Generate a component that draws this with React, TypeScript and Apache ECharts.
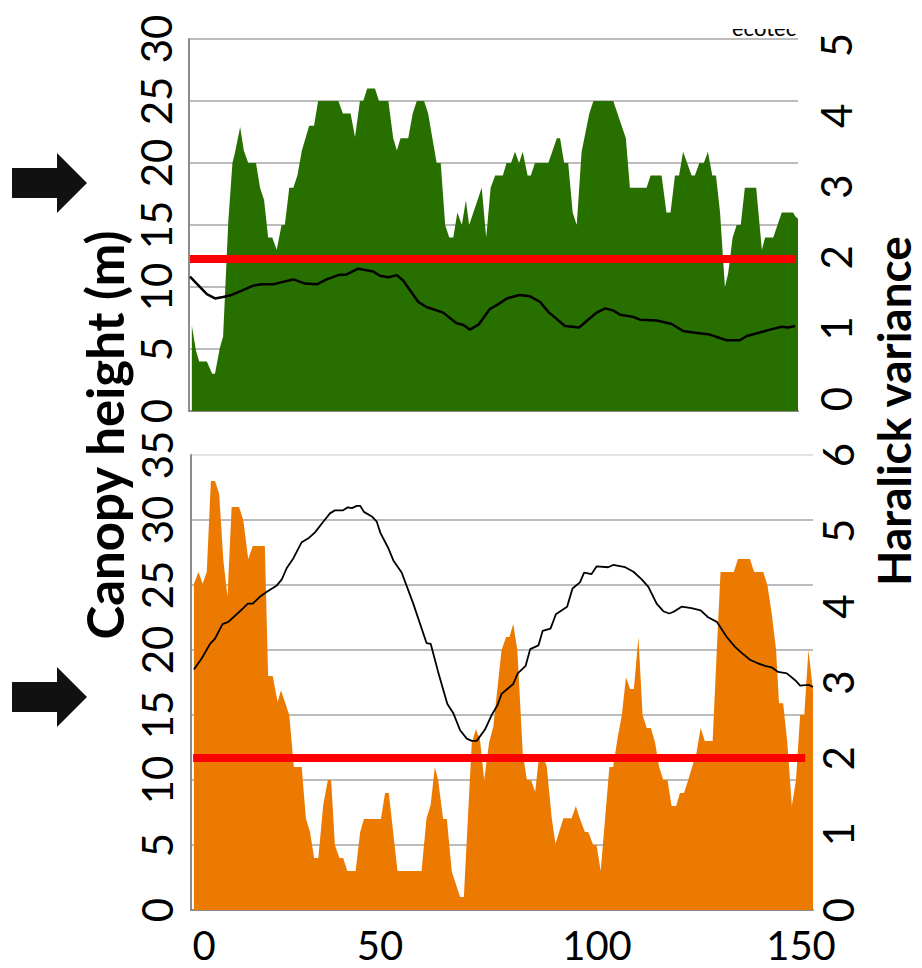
import React, { useEffect, useRef } from "react";
import * as echarts from "echarts";

// Distance along transect (0-150) and canopy height (m) — upper (green) profile
const topCanopyHeight: [number, number][] = [
  [0.7, 6.9], [1.7, 4.9], [2.5, 4.0], [4.4, 4.0], [5.7, 3.0], [6.4, 3.0], [7.6, 5.1], [8.4, 6.0],
  [9.7, 15.4], [10.7, 20], [11.3, 20.8], [12.6, 22.9], [13.5, 21], [14.6, 20], [16.5, 20], [17.5, 18],
  [18.5, 17], [19.5, 14], [20.5, 14], [21.6, 13], [22.8, 15], [23.6, 15], [24.7, 18], [25.7, 18],
  [26.7, 19], [27.8, 21], [29.6, 23], [30.8, 23], [31.8, 25], [36.8, 25], [37.9, 24], [39.8, 24],
  [40.9, 22.1], [42.1, 25], [42.9, 25], [43.9, 26], [45.8, 26], [46.8, 25], [49.1, 25], [50.3, 22],
  [51.2, 21], [52.1, 22], [54.0, 22], [55.1, 24], [56.1, 25], [57.9, 25], [58.9, 24], [61.0, 20],
  [62.0, 20], [63.1, 15], [64.1, 14], [65.1, 14], [66.1, 16], [67.2, 15], [68.2, 17], [69.0, 15],
  [72.1, 18], [73.2, 14], [74.3, 18], [75.4, 19], [77.3, 19], [78.2, 20], [79.3, 20], [80.3, 20.9],
  [81.3, 20], [82.2, 20.9], [83.4, 19], [84.2, 19], [85.2, 20], [88.5, 20], [90.6, 22], [91.4, 22],
  [92.4, 20], [93.4, 20], [94.5, 16], [95.5, 15], [96.7, 20.9], [98.6, 24], [99.6, 25], [104.5, 25],
  [107.6, 22], [108.6, 18], [112.7, 18], [113.7, 19], [116.4, 19], [117.6, 16], [118.6, 16], [119.7, 19],
  [120.7, 19], [121.7, 20.9], [123.8, 19], [124.6, 19], [125.7, 20], [126.8, 20], [127.8, 20.9], [128.9, 19],
  [129.8, 19], [130.8, 16], [132.0, 10], [132.8, 11.1], [133.9, 14], [134.9, 15], [135.9, 15], [136.9, 18],
  [139.7, 18], [141.1, 13], [141.9, 14], [143.9, 14], [146.0, 16], [148.8, 16], [149.3, 15.7], [150, 15.5],
];

// Haralick variance — upper profile
const topHaralick: [number, number][] = [
  [0.25, 1.73], [1.9, 1.63], [4.4, 1.48], [6.4, 1.42], [8.4, 1.44], [10.5, 1.47], [13.0, 1.53], [15.8, 1.60],
  [17.9, 1.62], [20.8, 1.62], [25.7, 1.69], [28.6, 1.63], [31.5, 1.62], [33.9, 1.69], [36.8, 1.75], [38.8, 1.76],
  [41.7, 1.84], [45.4, 1.80], [47.0, 1.74], [49.1, 1.72], [51.2, 1.75], [52.8, 1.67], [54.4, 1.54], [56.5, 1.37],
  [58.5, 1.30], [62.6, 1.22], [65.9, 1.07], [67.5, 1.05], [69.2, 0.98], [71.3, 1.05], [74.1, 1.27], [76.2, 1.34],
  [78.3, 1.42], [81.4, 1.47], [84.0, 1.45], [86.5, 1.37], [88.5, 1.23], [92.6, 1.03], [96.1, 1.01], [98.3, 1.12],
  [100.4, 1.22], [102.5, 1.28], [104.5, 1.25], [106.2, 1.19], [109.4, 1.16], [111.1, 1.12], [115.2, 1.11], [118.9, 1.06],
  [121.7, 0.96], [124.2, 0.94], [128.3, 0.91], [132.4, 0.83], [135.7, 0.83], [137.4, 0.89], [140.6, 0.94], [143.1, 0.98],
  [146.0, 1.02], [147.6, 1.01], [149.3, 1.03],
];

// Canopy height (m) — lower (orange) profile
const bottomCanopyHeight: [number, number][] = [
  [0.7, 25.1], [1.8, 26.0], [2.8, 25.1], [3.8, 26.0], [4.8, 33.0], [5.8, 33.0], [6.8, 32.0], [7.8, 26.9],
  [8.8, 24.1], [9.8, 31.0], [11.6, 31.0], [12.6, 30.0], [13.8, 27.0], [14.9, 28.0], [17.8, 28.0], [18.6, 18.0],
  [19.7, 18.0], [20.9, 16.0], [21.7, 16.9], [23.7, 15.0], [24.8, 11.0], [26.7, 11.0], [27.7, 7.05], [28.7, 6.0],
  [29.7, 4.0], [30.7, 4.0], [31.9, 8.1], [33.0, 10.0], [33.8, 10.0], [34.7, 5.0], [35.8, 4.0], [36.7, 4.0],
  [37.7, 3.0], [39.7, 3.0], [40.8, 6.0], [41.7, 7.0], [45.8, 7.0], [46.8, 9.0], [47.7, 9.0], [49.8, 3.0],
  [55.6, 3.0], [56.8, 7.05], [57.8, 8.1], [58.8, 11.0], [59.6, 10.0], [60.8, 7.0], [61.7, 7.0], [62.9, 2.95],
  [64.9, 1.0], [65.8, 1.0], [67.7, 12.8], [68.7, 13.9], [69.7, 13.1], [70.7, 10.0], [71.9, 12.9], [72.9, 14.1],
  [74.9, 20.0], [76.0, 21.0], [76.8, 21.0], [77.7, 22.0], [78.7, 20.0], [80.0, 12.1], [81.0, 10.0], [82.0, 10.0],
  [83.0, 9.1], [84.0, 12.0], [84.8, 12.0], [85.8, 11.0], [87.0, 7.05], [87.9, 5.1], [89.8, 7.05], [91.8, 7.05],
  [92.8, 8.0], [93.8, 7.0], [95.0, 6.0], [95.8, 6.0], [97.0, 5.0], [97.8, 5.0], [98.8, 3.0], [100.9, 11.0],
  [101.8, 11.0], [102.8, 13.1], [103.9, 15.0], [104.9, 17.9], [105.9, 17.0], [106.8, 17.0], [107.9, 21.0], [108.9, 15.0],
  [109.9, 14.0], [110.9, 14.0], [111.9, 12.9], [112.9, 11.0], [113.9, 10.0], [114.9, 10.0], [115.9, 8.0], [117.0, 8.0],
  [117.9, 9.0], [118.9, 9.0], [119.9, 10.0], [121.9, 12.1], [122.9, 14.0], [123.9, 13.0], [125.8, 13.0], [126.8, 20.0],
  [127.7, 26.0], [130.9, 26.0], [131.9, 27.0], [134.8, 27.0], [135.8, 26.0], [138.0, 26.0], [139.0, 25.0], [140.0, 22.9],
  [141.1, 20.0], [141.8, 15.9], [142.8, 15.9], [143.8, 12.9], [144.9, 8.0], [145.9, 10.0], [146.9, 15.0], [147.9, 15.0],
  [148.9, 20.0], [150, 16.9],
];

// Haralick variance — lower profile
const bottomHaralick: [number, number][] = [
  [0.7, 3.17], [2.6, 3.32], [4.6, 3.51], [5.8, 3.58], [7.6, 3.77], [9.0, 3.80], [11.4, 3.92], [12.6, 3.98],
  [13.7, 4.04], [14.9, 4.04], [16.6, 4.13], [18.4, 4.20], [20.7, 4.28], [21.9, 4.36], [23.1, 4.51], [24.7, 4.64],
  [26.7, 4.85], [28.5, 4.91], [29.9, 4.98], [31.9, 5.12], [33.5, 5.23], [34.7, 5.27], [36.7, 5.27], [37.8, 5.31],
  [38.8, 5.30], [40.0, 5.33], [40.8, 5.33], [41.7, 5.25], [43.6, 5.19], [44.8, 5.12], [45.7, 4.97], [47.6, 4.77],
  [48.8, 4.61], [50.8, 4.45], [53.6, 4.04], [56.8, 3.52], [57.8, 3.51], [59.6, 3.14], [61.8, 2.72], [63.3, 2.59],
  [64.9, 2.37], [66.5, 2.26], [67.7, 2.23], [68.9, 2.23], [70.9, 2.38], [72.5, 2.57], [73.9, 2.70], [74.9, 2.85],
  [77.7, 2.98], [78.8, 3.12], [80.7, 3.22], [81.8, 3.44], [83.8, 3.49], [84.8, 3.68], [86.7, 3.71], [88.0, 3.90],
  [90.7, 4.00], [92.0, 4.24], [93.8, 4.32], [94.8, 4.45], [96.6, 4.43], [97.8, 4.53], [100.6, 4.52], [101.8, 4.55],
  [104.7, 4.52], [106.7, 4.46], [108.7, 4.36], [110.3, 4.26], [112.3, 4.04], [113.9, 3.94], [115.3, 3.91], [116.3, 3.93],
  [118.3, 4.00], [120.7, 3.98], [122.9, 3.95], [124.7, 3.86], [126.8, 3.80], [129.2, 3.60], [131.2, 3.47], [132.8, 3.39],
  [134.8, 3.30], [136.4, 3.26], [138.4, 3.22], [140.0, 3.20], [141.6, 3.14], [143.7, 3.12], [145.7, 3.03], [146.9, 2.96],
  [148.9, 2.97], [150, 2.94],
];

// Threshold lines (canopy height, m) and their extent along the transect
const topThreshold: [number, number][] = [[0.25, 12.25], [149.3, 12.25]];
const bottomThreshold: [number, number][] = [[0.5, 11.7], [148.1, 11.7]];

const xTickLabels = ["0", "50", "100", "150"];
const leftTitle = "Canopy height (m)";
const rightTitle = "Haralick variance";

const FONT = "Lato";
const AXIS_GRAY = "#8c8c8c";
const GRID_GRAY = "#a6a6a6";

export default function App() {
  const ref = useRef<HTMLDivElement>(null);

  useEffect(() => {
    if (!ref.current) return;
    const chart = echarts.init(ref.current, null, { renderer: "svg" });

    const tickLabel = (margin: number) => ({
      show: true,
      rotate: 90,
      margin,
      fontFamily: FONT,
      fontSize: 42,
      lineHeight: 40,
      color: "#000",
    });

    const xLabelPositions = [204, 380, 597, 801];

    const arrow = (tipY: number) => ({
      type: "polygon",
      shape: {
        points: [
          [12, tipY - 15], [57, tipY - 15], [57, tipY - 30], [87, tipY],
          [57, tipY + 30], [57, tipY + 15], [12, tipY + 15],
        ],
      },
      style: { fill: "#111111" },
    });

    chart.setOption({
      animation: false,
      backgroundColor: "#ffffff",
      grid: [
        { left: 189, top: 39, width: 609, height: 372 },
        { left: 189, top: 45, width: 609, height: 354 },
        { left: 191, top: 455, width: 622, height: 455 },
      ],
      xAxis: [
        {
          type: "value", gridIndex: 0, min: 0, max: 150,
          axisLine: { show: true, lineStyle: { color: AXIS_GRAY, width: 2 } },
          axisTick: { show: false }, axisLabel: { show: false }, splitLine: { show: false },
        },
        {
          type: "value", gridIndex: 1, min: 0, max: 150, show: false,
        },
        {
          type: "value", gridIndex: 2, min: 0, max: 150,
          axisLine: { show: true, lineStyle: { color: AXIS_GRAY, width: 2 } },
          axisTick: { show: false }, axisLabel: { show: false }, splitLine: { show: false },
        },
      ],
      yAxis: [
        {
          type: "value", gridIndex: 0, position: "left", min: 0, max: 30, interval: 5,
          axisLine: { show: true, lineStyle: { color: AXIS_GRAY, width: 2 } },
          axisTick: { show: false },
          axisLabel: tickLabel(13),
          splitLine: { show: true, lineStyle: { color: GRID_GRAY, width: 1.5 } },
        },
        {
          type: "value", gridIndex: 1, position: "right", min: 0, max: 5, interval: 1,
          axisLine: { show: false }, axisTick: { show: false },
          axisLabel: tickLabel(18),
          splitLine: { show: false },
        },
        {
          type: "value", gridIndex: 2, position: "left", min: 0, max: 35, interval: 5,
          axisLine: { show: true, lineStyle: { color: AXIS_GRAY, width: 2 } },
          axisTick: { show: false },
          axisLabel: tickLabel(14),
          splitLine: {
            show: true,
            lineStyle: {
              color: [GRID_GRAY, GRID_GRAY, GRID_GRAY, GRID_GRAY, GRID_GRAY, GRID_GRAY, GRID_GRAY, "#d9d9d9"],
              width: 1.5,
            },
          },
        },
        {
          type: "value", gridIndex: 2, position: "right", min: 0, max: 6, interval: 1,
          axisLine: { show: false }, axisTick: { show: false },
          axisLabel: tickLabel(5),
          splitLine: { show: false },
        },
      ],
      series: [
        {
          type: "line", xAxisIndex: 0, yAxisIndex: 0, data: topCanopyHeight,
          showSymbol: false, symbol: "none",
          lineStyle: { width: 0, color: "#277000" },
          itemStyle: { color: "#277000" },
          areaStyle: { color: "#277000", opacity: 1 },
          z: 1,
        },
        {
          type: "line", xAxisIndex: 0, yAxisIndex: 0, data: topThreshold,
          showSymbol: false, symbol: "none",
          lineStyle: { width: 8, color: "#ff0000", cap: "butt" },
          z: 3,
        },
        {
          type: "line", xAxisIndex: 1, yAxisIndex: 1, data: topHaralick,
          showSymbol: false, symbol: "none",
          lineStyle: { width: 2.5, color: "#000000" },
          z: 4,
        },
        {
          type: "line", xAxisIndex: 2, yAxisIndex: 2, data: bottomCanopyHeight,
          showSymbol: false, symbol: "none",
          lineStyle: { width: 0, color: "#ec7a00" },
          itemStyle: { color: "#ec7a00" },
          areaStyle: { color: "#ec7a00", opacity: 1 },
          z: 1,
        },
        {
          type: "line", xAxisIndex: 2, yAxisIndex: 2, data: bottomThreshold,
          showSymbol: false, symbol: "none",
          lineStyle: { width: 8, color: "#ff0000", cap: "butt" },
          z: 3,
        },
        {
          type: "line", xAxisIndex: 2, yAxisIndex: 3, data: bottomHaralick,
          showSymbol: false, symbol: "none",
          lineStyle: { width: 1.8, color: "#000000" },
          z: 4,
        },
      ],
      graphic: [
        {
          type: "text", x: 732, y: 27, z: 10,
          style: { text: "ecotec", fontFamily: FONT, fontSize: 22, fill: "#000", textVerticalAlign: "middle" },
        },
        { type: "rect", shape: { x: 720, y: 0, width: 90, height: 29 }, style: { fill: "#ffffff" }, z: 11 },
        {
          type: "text", x: 104, y: 435, rotation: Math.PI / 2, z: 10,
          style: {
            text: leftTitle, fontFamily: FONT, fontWeight: "bold", fontSize: 51, fill: "#000",
            textAlign: "center", textVerticalAlign: "middle",
          },
        },
        {
          type: "text", x: 893, y: 411, rotation: Math.PI / 2, z: 10,
          style: {
            text: rightTitle, fontFamily: FONT, fontWeight: "bold", fontSize: 46, lineHeight: 46, fill: "#000",
            textAlign: "center", textVerticalAlign: "middle",
          },
        },
        arrow(183),
        arrow(697),
        ...xTickLabels.map((t, i) => ({
          type: "text", x: xLabelPositions[i], y: 945, z: 10,
          style: {
            text: t, fontFamily: FONT, fontSize: 40, fill: "#000",
            textAlign: "center", textVerticalAlign: "middle",
          },
        })),
      ],
    });

    return () => chart.dispose();
  }, []);

  return (
    <div
      ref={ref}
      style={{ position: "fixed", left: 0, top: 0, width: 922, height: 968, background: "#fff" }}
    />
  );
}
